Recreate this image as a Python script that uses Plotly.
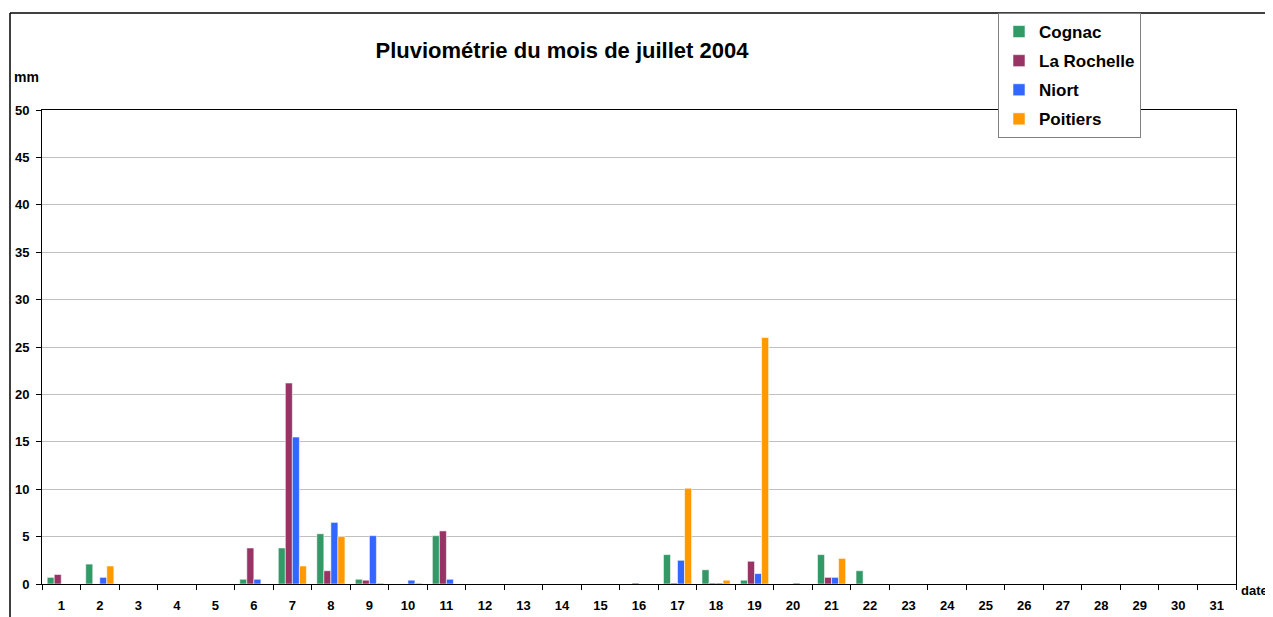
import plotly.graph_objects as go

days = [str(d) for d in range(1, 32)]

cognac = [0.7, 2.1, 0, 0, 0, 0.5, 3.8, 5.3, 0.5, 0, 5.1, 0, 0, 0, 0, 0,
          3.1, 1.5, 0.4, 0, 3.1, 1.4, 0, 0, 0, 0, 0, 0, 0, 0, 0]
la_rochelle = [1.0, 0, 0, 0, 0, 3.8, 21.2, 1.4, 0.4, 0, 5.6, 0, 0, 0, 0, 0.1,
               0.1, 0.1, 2.4, 0, 0.7, 0, 0, 0, 0, 0, 0, 0, 0, 0, 0]
niort = [0, 0.7, 0, 0, 0, 0.5, 15.5, 6.5, 5.1, 0.4, 0.5, 0, 0, 0, 0, 0,
         2.5, 0.1, 1.1, 0.1, 0.7, 0, 0, 0, 0, 0, 0, 0, 0, 0, 0]
poitiers = [0, 1.9, 0, 0, 0, 0, 1.9, 5.0, 0.1, 0.1, 0, 0, 0, 0, 0, 0,
            10.1, 0.4, 26.0, 0, 2.7, 0, 0, 0, 0, 0, 0, 0, 0, 0, 0]

series = [
    ("Cognac", cognac, "#339966"),
    ("La Rochelle", la_rochelle, "#993366"),
    ("Niort", niort, "#3366FF"),
    ("Poitiers", poitiers, "#FF9900"),
]

FONT = "Liberation Sans, Arial, sans-serif"

fig = go.Figure()
for name, vals, col in series:
    fig.add_trace(go.Bar(
        x=days, y=vals, name=f"<b>{name}</b>", legendgroup=name,
        marker=dict(color=col, line=dict(color="rgba(255,255,255,0.55)", width=1)),
    ))

# page body has an 8px margin: work in page pixels, shifted by OFF
OFF = 8
W, H = 1273 - OFF, 617 - OFF
L, R, T, B = 42 - OFF, 1236 - OFF, 110 - OFF, 584 - OFF
pw, ph = R - L, B - T

def px(x):
    return (x - OFF - L) / pw

def py(y):
    return (B - (y - OFF)) / ph

fig.update_layout(
    width=W, height=H,
    margin=dict(l=L, r=W - R, t=T, b=H - B, pad=0, autoexpand=False),
    paper_bgcolor="white", plot_bgcolor="white",
    barmode="group", bargap=0.27, bargroupgap=0,
    font=dict(family=FONT, size=13, color="black"),
    title=dict(text="<b>Pluviométrie du mois de juillet 2004</b>",
               x=(562 - OFF) / W, xanchor="center", y=1 - (50 - OFF) / H, yanchor="middle",
               font=dict(family=FONT, size=22, color="black")),
    showlegend=True,
    legend=dict(x=px(998), y=py(13), xanchor="left", yanchor="top",
                bgcolor="white", bordercolor="#808080", borderwidth=1,
                font=dict(family=FONT, size=17, color="black"),
                traceorder="grouped", tracegroupgap=4,
                itemwidth=30),
    xaxis=dict(type="category", tickson="boundaries", ticks="outside", ticklen=5,
               tickcolor="black", showline=True, linecolor="black", linewidth=1,
               mirror=True, showgrid=False, automargin=False,
               tickfont=dict(family=FONT, size=13, color="black"),
               ticklabelstandoff=9),
    yaxis=dict(range=[0, 50], dtick=5, ticks="outside", ticklen=5, tickcolor="black",
               showline=True, linecolor="black", linewidth=1, mirror=True,
               showgrid=True, gridcolor="#C0C0C0", gridwidth=1, zeroline=False,
               automargin=False,
               tickprefix="<b>", ticksuffix="</b>", ticklabelstandoff=4,
               tickfont=dict(family=FONT, size=13, color="black")),
    annotations=[
        dict(text="<b>mm</b>", x=px(12), y=py(77), xref="paper", yref="paper",
             xanchor="left", yanchor="middle", showarrow=False,
             font=dict(family=FONT, size=14, color="black")),
        dict(text="<b>date</b>", x=px(1239), y=py(590), xref="paper", yref="paper",
             xanchor="left", yanchor="middle", showarrow=False,
             font=dict(family=FONT, size=13, color="black")),
    ],
    shapes=[
        dict(type="line", xref="paper", yref="paper", x0=px(10), x1=px(1300),
             y0=py(13), y1=py(13), line=dict(color="black", width=1.5)),
        dict(type="line", xref="paper", yref="paper", x0=px(10), x1=px(10),
             y0=py(13), y1=py(640), line=dict(color="black", width=1.5)),
    ],
)

fig.update_xaxes(ticktext=[f"<b>{d}</b>" for d in days], tickvals=days)

fig.write_html("out.html")
